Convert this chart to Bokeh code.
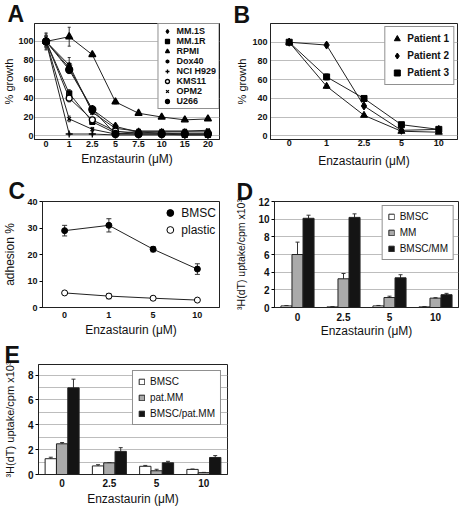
from bokeh.plotting import figure
from bokeh.models import (FactorRange, Range1d, FixedTicker, Legend, LegendItem,
                          Whisker, ColumnDataSource, TeeHead)
from bokeh.layouts import column, row
from bokeh.transform import dodge
from bokeh.embed import file_html
from bokeh.resources import INLINE

FONT = "Liberation Sans"

# ---------------- data ----------------
# Panel A: cell lines, % growth
a_doses = ["0", "1", "2.5", "5", "7.5", "10", "15", "20"]
a_mm1s = [100, 72, 28, 10, 4, 3, 2, 2]
a_mm1r = [100, 45, 15, 3, 2, 2, 1, 1]
a_rpmi = [100, 105, 86, 36, 24, 20, 17, 18]
a_dox40 = [100, 75, 25, 8, 5, 5, 5, 5]
a_nci = [100, 2, 2, 1, 1, 1, 1, 1]
a_kms11 = [100, 40, 17, 5, 3, 3, 3, 3]
a_opm2 = [100, 18, 7, 2, 5, 5, 5, 6]
a_u266 = [100, 70, 28, 2, 2, 2, 2, 2]
a_err_mm1s = [8, 5, 3, 1, 1, 1, 1, 1]
a_err_mm1r = [6, 4, 2, 1, 1, 1, 1, 1]
a_err_rpmi = [6, 10, 2, 2, 1, 1, 1, 1]
a_err_dox40 = [9, 8, 2, 1, 1, 1, 1, 1]
a_err_nci = [5, 1, 1, 1, 1, 1, 1, 1]
a_err_kms11 = [5, 4, 2, 1, 1, 1, 1, 1]
a_err_opm2 = [5, 3, 2, 1, 1, 1, 1, 1]
a_err_u266 = [6, 4, 2, 1, 1, 1, 1, 1]

# Panel B: patients, % growth
b_doses = ["0", "1", "2.5", "5", "10"]
b_pat1 = [100, 53, 22, 5, 4]
b_pat2 = [100, 97, 32, 6, 7]
b_pat3 = [100, 63, 40, 12, 7]
b_err_pat1 = [1, 2, 1, 1, 1]
b_err_pat2 = [1, 2, 2, 1, 1]
b_err_pat3 = [1, 3, 1, 1, 1]

# Panel C: adhesion %
c_doses = ["0", "1", "5", "10"]
c_bmsc = [29, 31, 22, 14.5]
c_bmsc_err = [2, 2.5, 1, 2]
c_plastic = [5.5, 4.3, 3.5, 2.8]
c_plastic_err = [0.5, 1, 0.7, 0.4]

# Panel D: 3H(dT) uptake
d_doses = ["0", "2.5", "5", "10"]
d_bmsc = [0.18, 0.07, 0.18, 0.07]
d_bmsc_err = [0.03, 0.02, 0.05, 0.02]
d_mm = [6.0, 3.25, 1.13, 1.06]
d_mm_err = [1.4, 0.6, 0.15, 0.05]
d_bmsc_mm = [10.1, 10.2, 3.36, 1.45]
d_bmsc_mm_err = [0.35, 0.4, 0.35, 0.15]

# Panel E: 3H(dT) uptake, patient MM
e_doses = ["0", "2.5", "5", "10"]
e_bmsc = [1.27, 0.69, 0.66, 0.41]
e_bmsc_err = [0.12, 0.1, 0.07, 0.03]
e_patmm = [2.47, 0.94, 0.3, 0.15]
e_patmm_err = [0.1, 0.0, 0.12, 0.02]
e_bmsc_patmm = [6.97, 1.86, 0.94, 1.37]
e_bmsc_patmm_err = [0.7, 0.3, 0.12, 0.15]

X_TITLE = "Enzastaurin (\u03bcM)"
UPTAKE_TITLE = "\u00b3H(dT) uptake/cpm x10\u00b3"


def base_fig(w, h, factors, y0, y1, border, yticks, letter, loff, lstand, grid=True):
    left, right, top, bottom = border
    p = figure(width=w, height=h, x_range=FactorRange(factors=factors),
               y_range=Range1d(y0, y1), output_backend="svg", toolbar_location=None,
               min_border_left=left, min_border_right=right,
               min_border_top=top, min_border_bottom=bottom)
    p.title.text = letter
    p.title.align = "left"
    p.title.offset = loff
    p.title.standoff = lstand
    p.title.text_font = FONT
    p.title.text_font_size = "23px"
    p.title.text_font_style = "bold"
    p.title.text_color = "#111111"
    p.outline_line_color = "#222222"
    p.outline_line_width = 1
    p.xgrid.grid_line_color = None
    if grid:
        p.ygrid.grid_line_color = "#bdbdbd"
        p.ygrid.ticker = FixedTicker(ticks=yticks)
    else:
        p.ygrid.grid_line_color = None
    p.yaxis.ticker = FixedTicker(ticks=yticks)
    for ax in (p.xaxis[0], p.yaxis[0]):
        ax.axis_line_color = "#222222"
        ax.major_tick_out = 0
        ax.major_tick_in = 0
        ax.minor_tick_out = 0
        ax.minor_tick_in = 0
        ax.major_label_text_font = FONT
        ax.major_label_text_font_style = "bold"
        ax.major_label_text_font_size = "9px"
        ax.major_label_text_color = "#111111"
        ax.axis_label_text_font = FONT
        ax.axis_label_text_font_style = "normal"
        ax.axis_label_text_color = "#111111"
    p.xaxis.axis_label = X_TITLE
    p.xaxis.axis_label_text_font_size = "12px"
    return p


def set_standoffs(p, xl, xt, yl, yt):
    p.xaxis.major_label_standoff = xl
    p.xaxis.axis_label_standoff = xt
    p.yaxis.major_label_standoff = yl
    p.yaxis.axis_label_standoff = yt


def style_legend(leg, size, bold, gh, gw, spacing, padding):
    leg.label_text_font = FONT
    leg.label_text_font_size = size
    leg.label_text_font_style = "bold" if bold else "normal"
    leg.label_text_color = "#111111"
    leg.glyph_height = gh
    leg.glyph_width = gw
    leg.label_height = gh
    leg.spacing = spacing
    leg.padding = padding
    leg.label_standoff = 3
    leg.border_line_color = "#222222"
    leg.border_line_width = 1
    leg.background_fill_alpha = 1


def err_source(x, vals, errs):
    return ColumnDataSource(dict(x=x, y=vals,
                                 lo=[v - e for v, e in zip(vals, errs)],
                                 hi=[v + e for v, e in zip(vals, errs)]))


def add_whisker(p, base, src, cap):
    p.add_layout(Whisker(base=base, lower="lo", upper="hi", source=src,
                         line_color="#333333", line_width=1,
                         upper_head=TeeHead(size=cap, line_color="#333333"),
                         lower_head=TeeHead(size=cap, line_color="#333333")))


# ---------------- Panel A ----------------
pA = base_fig(230, 170, a_doses, -3.8, 119, (30, 11, 23, 30),
              [0, 20, 40, 60, 80, 100], "A", -27, -7)
pA.yaxis.axis_label = "% growth"
pA.yaxis.axis_label_text_font_size = "11px"
set_standoffs(pA, 1, 2, 1, 0)
a_series = [
    ("MM.1S", a_mm1s, a_err_mm1s, "diamond", 8, "black"),
    ("MM.1R", a_mm1r, a_err_mm1r, "square", 5, "black"),
    ("RPMI", a_rpmi, a_err_rpmi, "triangle", 7, "black"),
    ("Dox40", a_dox40, a_err_dox40, "asterisk", 6, "black"),
    ("NCI H929", a_nci, a_err_nci, "cross", 7, "black"),
    ("KMS11", a_kms11, a_err_kms11, "circle", 6, "white"),
    ("OPM2", a_opm2, a_err_opm2, "x", 5, "black"),
    ("U266", a_u266, a_err_u266, "circle", 7, "black"),
]
a_items = []
for name, vals, errs, mk, sz, fill in a_series:
    src = err_source(a_doses, vals, errs)
    pA.line("x", "y", source=src, line_color="#222222", line_width=1)
    add_whisker(pA, "x", src, 3)
    r = pA.scatter("x", "y", source=src, marker=mk, size=sz, fill_color=fill,
                   line_color="black", line_width=1.3)
    a_items.append(LegendItem(label=name, renderers=[r]))
legA = Legend(items=a_items, location="top_right", margin=0)
style_legend(legA, "9px", True, 10, 13, 0, 2)
legA.label_text_line_height = 0.9
pA.add_layout(legA)

# ---------------- Panel B ----------------
pB = base_fig(229, 170, b_doses, -3.8, 120, (40, 2, 21, 30),
              [0, 20, 40, 60, 80, 100], "B", -37, -8)
pB.yaxis.axis_label = "% growth"
pB.yaxis.axis_label_text_font_size = "11px"
set_standoffs(pB, 0, 5, 3, 1)
b_series = [
    ("Patient 1", b_pat1, b_err_pat1, "triangle", 7),
    ("Patient 2", b_pat2, b_err_pat2, "diamond", 8),
    ("Patient 3", b_pat3, b_err_pat3, "square", 6),
]
b_items = []
for name, vals, errs, mk, sz in b_series:
    src = err_source(b_doses, vals, errs)
    pB.line("x", "y", source=src, line_color="#222222", line_width=1)
    add_whisker(pB, "x", src, 3)
    r = pB.scatter("x", "y", source=src, marker=mk, size=sz, fill_color="black",
                   line_color="black")
    b_items.append(LegendItem(label=name, renderers=[r]))
legB = Legend(items=b_items, location="top_right", margin=3)
style_legend(legB, "10px", True, 15, 15, 2, 4)
pB.add_layout(legB)

# ---------------- Panel C ----------------
pC = base_fig(230, 170, c_doses, 0, 40, (37, 11, 31, 32),
              [0, 10, 20, 30, 40], "C", -34, -4, grid=False)
pC.yaxis.axis_label = "adhesion %"
pC.yaxis.axis_label_text_font_size = "12px"
pC.yaxis.major_tick_out = 3
set_standoffs(pC, 4, 2, 2, 7)
c_items = []
for name, vals, errs, fill in [("BMSC", c_bmsc, c_bmsc_err, "black"),
                               ("plastic", c_plastic, c_plastic_err, "white")]:
    src = err_source(c_doses, vals, errs)
    pC.line("x", "y", source=src, line_color="#222222", line_width=1)
    add_whisker(pC, "x", src, 5)
    r = pC.scatter("x", "y", source=src, marker="circle", size=6, fill_color=fill,
                   line_color="black")
    c_items.append(LegendItem(label=name, renderers=[r]))
legC = Legend(items=c_items, location="top_right", margin=3)
style_legend(legC, "12px", False, 17, 17, 0, 2)
legC.border_line_color = None
legC.background_fill_alpha = 0
pC.add_layout(legC)

# ---------------- Panel D ----------------
OFF = 0.24
pD = base_fig(229, 170, d_doses, 0, 12, (44, 1, 27, 32),
              [0, 2, 4, 6, 8, 10, 12], "D", -38, -6)
pD.yaxis.axis_label = UPTAKE_TITLE
pD.yaxis.axis_label_text_font_size = "10.5px"
pD.yaxis.major_label_text_font_size = "10px"
pD.xaxis.major_label_text_font_size = "10px"
pD.yaxis.major_tick_out = 3
set_standoffs(pD, 5, 0, 2, 8)
d_items = []
for name, vals, errs, off, fill in [("BMSC", d_bmsc, d_bmsc_err, -OFF, "white"),
                                    ("MM", d_mm, d_mm_err, 0.0, "#aaaaaa"),
                                    ("BMSC/MM", d_bmsc_mm, d_bmsc_mm_err, OFF, "#141414")]:
    src = err_source(d_doses, vals, errs)
    r = pD.vbar(x=dodge("x", off, range=pD.x_range), top="y", width=OFF, source=src,
                fill_color=fill, line_color="#222222", line_width=1)
    add_whisker(pD, dodge("x", off, range=pD.x_range), src, 4)
    d_items.append(LegendItem(label=name, renderers=[r]))
legD = Legend(items=d_items, location="top_right", margin=4)
style_legend(legD, "10px", False, 7, 7, 5, 5)
legD.label_standoff = 5
pD.add_layout(legD)

# ---------------- Panel E ----------------
pE = base_fig(240, 168, e_doses, 0, 8.85, (37, 13, 24, 29),
              [0, 2, 4, 6, 8], "E", -34, -6)
pE.ygrid.ticker = FixedTicker(ticks=[1, 2, 3, 4, 5, 6, 7, 8])
pE.yaxis.axis_label = UPTAKE_TITLE
pE.yaxis.axis_label_text_font_size = "11px"
pE.yaxis.major_label_text_font_size = "10px"
pE.xaxis.major_label_text_font_size = "10px"
pE.yaxis.major_tick_out = 3
set_standoffs(pE, 4, 2, 2, 9)
e_items = []
for name, vals, errs, off, fill in [("BMSC", e_bmsc, e_bmsc_err, -OFF, "white"),
                                    ("pat.MM", e_patmm, e_patmm_err, 0.0, "#aaaaaa"),
                                    ("BMSC/pat.MM", e_bmsc_patmm, e_bmsc_patmm_err, OFF, "#141414")]:
    src = err_source(e_doses, vals, errs)
    r = pE.vbar(x=dodge("x", off, range=pE.x_range), top="y", width=OFF, source=src,
                fill_color=fill, line_color="#222222", line_width=1)
    add_whisker(pE, dodge("x", off, range=pE.x_range), src, 4)
    e_items.append(LegendItem(label=name, renderers=[r]))
legE = Legend(items=e_items, location="top_right", margin=6)
style_legend(legE, "10px", False, 7, 7, 5, 5)
legE.label_standoff = 5
pE.add_layout(legE)

layout = column(row(pA, pB), row(pC, pD), pE)
open("out.html", "w").write(file_html(layout, INLINE))
